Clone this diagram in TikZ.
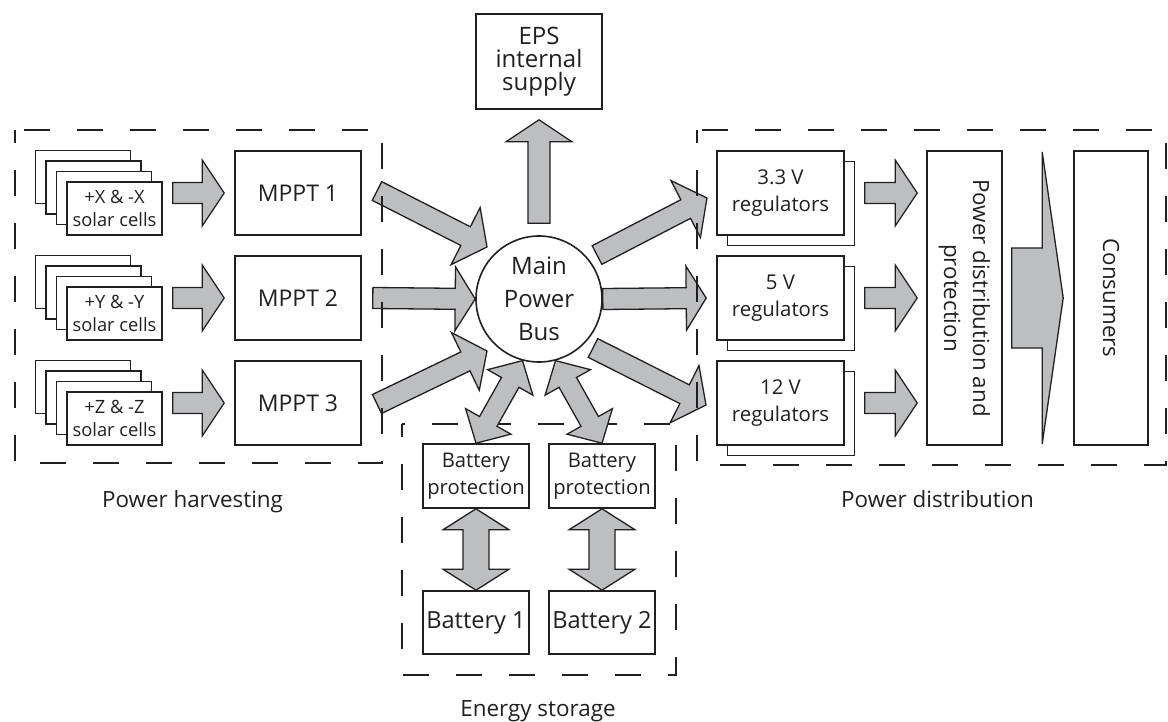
\documentclass[tikz,border=0pt]{standalone}
\usepackage{fontspec}
\setmainfont{Open Sans}
\usetikzlibrary{calc}

\definecolor{ink}{HTML}{231F20}
\definecolor{arrowfill}{HTML}{BCBEC0}

\tikzset{
  plainbox/.style={draw=ink, fill=white, line width=1.6pt, text=ink, align=center, inner sep=0pt},
  cellbox/.style={plainbox, minimum width=95pt, minimum height=53pt, font=\fontsize{18.3}{23}\selectfont},
  mpptbox/.style={plainbox, minimum width=126pt, minimum height=84pt, font=\fontsize{23}{30}\selectfont},
  regbox/.style={plainbox, minimum width=127pt, minimum height=84pt, font=\fontsize{20.4}{27}\selectfont},
  protbox/.style={plainbox, minimum width=106pt, minimum height=64pt, font=\fontsize{20.2}{27}\selectfont},
  batbox/.style={plainbox, minimum width=106pt, minimum height=63pt, font=\fontsize{23.6}{30}\selectfont},
  tallbox/.style={plainbox, rotate=-90, minimum width=294pt, font=\fontsize{22.3}{29}\selectfont},
  groupbox/.style={draw=ink, line width=1.6pt, dash pattern=on 26pt off 27pt, dash phase=13pt},
  grouplabel/.style={text=ink, anchor=base, font=\fontsize{22.4}{26}\selectfont},
  blockarrow/.style={draw=ink, fill=arrowfill, line width=1.3pt, line join=miter},
}

% block arrow: tail, tip, shaft half width, head half width, head length
\newcommand{\fatarrow}[5]{%
  \coordinate (fa-s) at #1;
  \coordinate (fa-e) at #2;
  \coordinate (fa-h) at ($(fa-e)!#5!(fa-s)$);
  \draw[blockarrow] ($(fa-s)!#3!90:(fa-e)$) -- ($(fa-h)!#3!90:(fa-e)$)
    -- ($(fa-h)!#4!90:(fa-e)$) -- (fa-e) -- ($(fa-h)!#4!-90:(fa-e)$)
    -- ($(fa-h)!#3!-90:(fa-e)$) -- ($(fa-s)!#3!-90:(fa-e)$) -- cycle;
}
% double block arrow, same arguments
\newcommand{\fatdarrow}[5]{%
  \coordinate (fa-s) at #1;
  \coordinate (fa-e) at #2;
  \coordinate (fa-h1) at ($(fa-s)!#5!(fa-e)$);
  \coordinate (fa-h2) at ($(fa-e)!#5!(fa-s)$);
  \draw[blockarrow] (fa-s) -- ($(fa-h1)!#4!90:(fa-e)$) -- ($(fa-h1)!#3!90:(fa-e)$)
    -- ($(fa-h2)!#3!90:(fa-e)$) -- ($(fa-h2)!#4!90:(fa-e)$) -- (fa-e)
    -- ($(fa-h2)!#4!-90:(fa-e)$) -- ($(fa-h2)!#3!-90:(fa-e)$)
    -- ($(fa-h1)!#3!-90:(fa-e)$) -- ($(fa-h1)!#4!-90:(fa-e)$) -- cycle;
}

\begin{document}
\begin{tikzpicture}[x=1pt, y=-1pt]
\useasboundingbox (0,0) rectangle (1168,722);

% Energy storage group (behind its arrows)
\draw[groupbox] (402,424) rectangle (676,675);

% ================================================================
% Power harvesting
% ================================================================
\foreach \i/\y/\t in {1/208.5/X, 2/313.5/Y, 3/418.5/Z} {
  \foreach \k in {3,2,1}
    \node[cellbox] (cx\i-\k) at (114.5-\k*10.5, \y-\k*10.5) {};
  \node[cellbox] (cx\i) at (114.5,\y) {+\t{} \& -\t\\solar cells};
}
\foreach \i/\y in {1/193, 2/298, 3/403}
  \node[mpptbox] (mp\i) at (298,\y) {MPPT \i};

% ================================================================
% Main bus and internal supply
% ================================================================
\node[plainbox, circle, minimum size=126pt, font=\fontsize{24}{33}\selectfont]
  (bus) at (539,299) {Main\\Power\\Bus};
\node[plainbox, minimum width=126pt, minimum height=95pt, font=\fontsize{24}{23}\selectfont]
  (eps) at (539,61.5) {EPS\\internal\\supply};

% ================================================================
% Power distribution
% ================================================================
\foreach \i/\y/\v in {1/193/3.3, 2/298/5, 3/403/12} {
  \node[regbox] (rg\i-b) at (791,\y+10.5) {};
  \node[regbox] (rg\i) at (780.5,\y) {\v~V\\regulators};
}
\node[tallbox, minimum height=75pt] (pd) at (964.5,298) {Power distribution and\\protection};
\node[tallbox, minimum height=74pt] (cons) at (1111,298) {Consumers};

% ================================================================
% Energy storage
% ================================================================
\foreach \i/\x in {1/476, 2/602} {
  \node[protbox] (bp\i) at (\x,476) {Battery\\protection};
  \node[batbox] (bat\i) at (\x,622.5) {Battery \i};
}

% ================================================================
% Block arrows
% ================================================================
\coordinate (hv1) at (377,191);
\coordinate (hv1-in) at (487,247);
\coordinate (hv3) at (377,404);
\coordinate (hv3-in) at (487,351);
\coordinate (ds1-out) at (597,255);
\coordinate (ds1) at (707,198);
\coordinate (ds3-out) at (593,348);
\coordinate (ds3) at (706,405);

\foreach \i in {1,2,3}
  \fatarrow{($(cx\i.east |- mp\i)+(10,0)$)}{($(mp\i.west)+(-10,0)$)}{10.5pt}{33pt}{22pt};

\fatarrow{(hv1)}{(hv1-in)}{10.5pt}{32pt}{24pt}
\fatarrow{($(mp2.east)+(11,0)$)}{(bus.west)}{10.5pt}{32pt}{20pt}
\fatarrow{(hv3)}{(hv3-in)}{10.5pt}{32pt}{24pt}

\fatarrow{($(bus.north)+(0,-12)$)}{($(eps.south)+(0,10)$)}{11pt}{33pt}{22pt}

\fatarrow{(ds1-out)}{(ds1)}{10.5pt}{32pt}{24pt}
\fatarrow{(bus.east)}{($(rg2.west)+(-10,0)$)}{10.5pt}{32pt}{20pt}
\fatarrow{(ds3-out)}{(ds3)}{10.5pt}{32pt}{24pt}

\foreach \i in {1,2,3}
  \fatarrow{($(rg\i.east)+(20,0)$)}{($(pd.south |- rg\i)+(-9,0)$)}{10.5pt}{33pt}{22pt};

\fatarrow{($(pd.north)+(9,0)$)}{($(cons.south)+(-10,0)$)}{50pt}{146pt}{21pt}

\fatdarrow{(bus.255)}{(bp1.north)}{10pt}{26pt}{25pt}
\fatdarrow{(bus.285)}{(bp2.north)}{10pt}{26pt}{25pt}
\foreach \i in {1,2}
  \fatdarrow{(bp\i.south)}{(bat\i.north)}{13pt}{33pt}{21pt};

% Group frames and labels
\draw[groupbox] (15,130) rectangle (382,463);
\draw[groupbox] (697,130) rectangle (1166,465);

\node[grouplabel] (lbl-harv) at (192.5,507) {Power harvesting};
\node[grouplabel] (lbl-dist) at (937.5,507) {Power distribution};
\node[grouplabel] (lbl-stor) at (538,716) {Energy storage};

\end{tikzpicture}
\end{document}
